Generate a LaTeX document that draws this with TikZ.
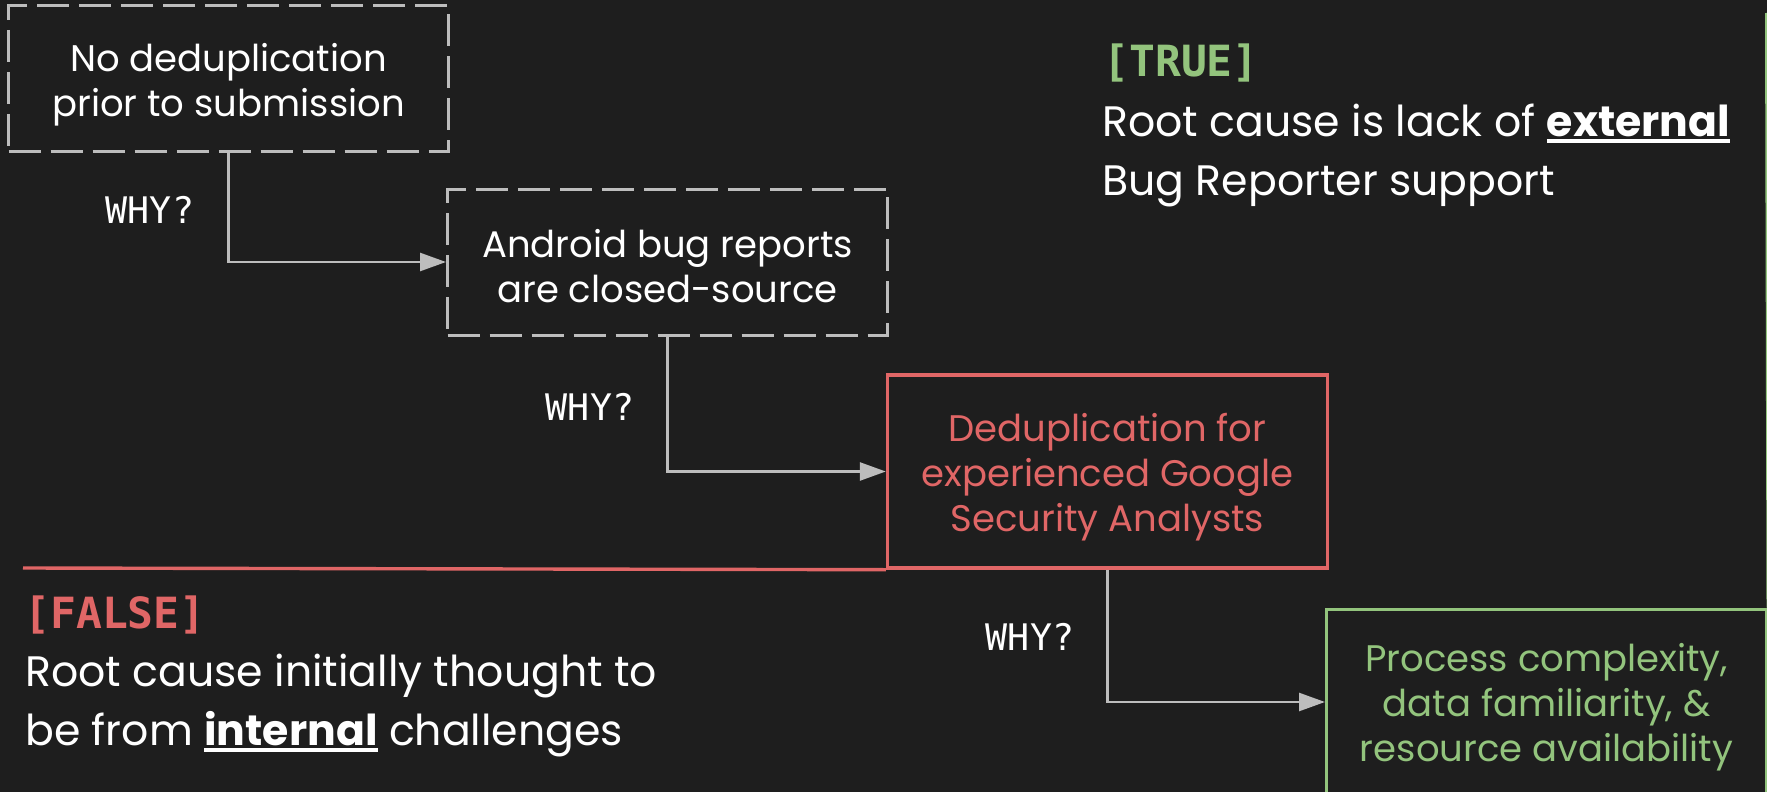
\documentclass[tikz,border=0pt]{standalone}
\usepackage{fontspec}
\setmainfont{Poppins}
\newfontfamily\monof{DejaVu Sans Mono}
\newfontfamily\monob{DejaVu Sans Mono Bold}
\usetikzlibrary{arrows.meta}
\definecolor{bg}{HTML}{1E1E1E}
\definecolor{lgray}{HTML}{BDBDBD}
\definecolor{myred}{HTML}{E06666}
\definecolor{mygreen}{HTML}{93C47D}
\newcommand\myul[2]{\setbox0=\hbox{#2}\rlap{\rule[#1]{\wd0}{2pt}}\box0\relax}
\begin{document}
\begin{tikzpicture}[x=0.5pt,y=-0.5pt,
  box/.style={line width=1.5pt, minimum width=220pt, inner sep=0pt},
  dbox/.style={box, draw=lgray, dash pattern=on 16pt off 5pt, minimum height=73pt},
  redbox/.style={box, draw=myred, line width=1.7pt, minimum height=96.5pt},
  greenbox/.style={box, draw=mygreen, minimum height=93pt},
  btext/.style={align=center, inner sep=0pt, font=\fontsize{18.5}{22.5}\selectfont},
  arr/.style={draw=lgray, line width=1.3pt, -{Triangle[length=13pt,width=9pt]}},
  why/.style={text=white, font=\monof\fontsize{18.3}{20}\selectfont},
  tag/.style={anchor=base west, inner sep=0pt, font=\monob\fontsize{21.5}{24}\selectfont},
  body/.style={anchor=base west, inner sep=0pt, text=white, font=\fontsize{21.3}{29}\selectfont}]
\fill[bg] (0,0) rectangle (1767,792);
\useasboundingbox (0,0) rectangle (1767,792);

\node[dbox] (b1) at (228.5,79) {};
\node[dbox] (b2) at (667.5,262) {};
\node[redbox] (b3) at (1107.5,471.5) {};
\node[greenbox] (b4) at (1546.5,702) {};

\node[btext, text=white] (b1t) at ([yshift=-2.8pt]b1.center) {No deduplication\\prior to submission};
\node[btext, text=white] (b2t) at ([yshift=-2pt]b2.center) {Android bug reports\\are closed-source};
\node[btext, text=myred] (b3t) at ([yshift=-3pt]b3.center) {Deduplication for\\experienced Google\\Security Analysts};
\node[btext, text=mygreen] (b4t) at ([yshift=-2.8pt]b4.center) {Process complexity,\\data familiarity, \&\\resource availability};

\draw[arr] (b1.south) |- (b2.west);
\draw[arr] (b2.south) |- (b3.west);
\draw[arr] (b3.south) |- (b4.west);

\node[why] (w1) at (150,210) {WHY?};
\node[why] (w2) at (590,407) {WHY?};
\node[why] (w3) at (1030,637) {WHY?};

\coordinate (fl) at (23,568);
\draw[myred, line width=1.7pt] (fl) -- (b3.south west);
\coordinate (gt) at (1766.5,13);
\draw[mygreen, line width=1.5pt] (gt) -- (b4.north east);

\node[tag, text=mygreen] (tt) at (1103,77) {[TRUE]};
\node[body] (t1) at (1102,137) {Root cause is lack of \myul{-3pt}{\textbf{external}}};
\node[body] (t2) at (1102,195) {Bug Reporter support};

\node[tag, text=myred] (ft) at (24,628) {[FALSE]};
\node[body] (f1) at (25,686) {Root cause initially thought to};
\node[body] (f2) at (25,745) {be from \myul{-3.5pt}{\textbf{internal}} challenges};
\end{tikzpicture}
\end{document}
